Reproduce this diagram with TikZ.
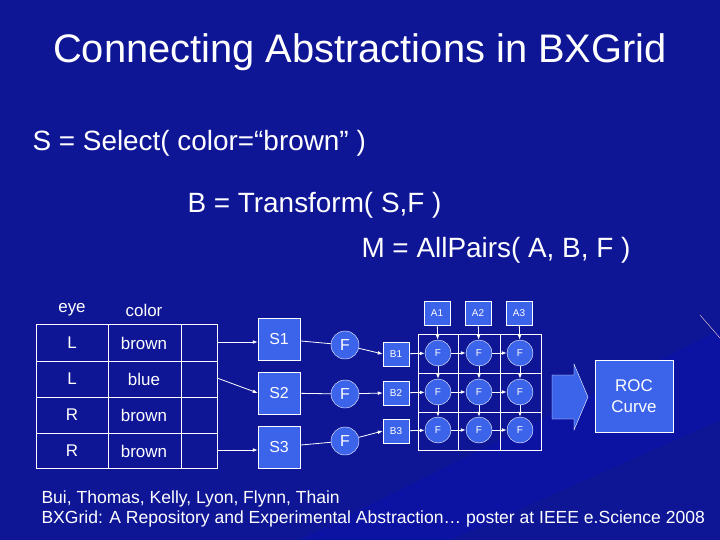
\documentclass[tikz,border=0pt]{standalone}
\usepackage{fontspec}
\setmainfont{Liberation Sans}
\usetikzlibrary{arrows.meta}
\definecolor{bg}{RGB}{14,22,150}
\definecolor{bx}{RGB}{60,100,235}
\tikzset{
 sbox/.style={draw=white,fill=bx,text=white,minimum width=42bp,minimum height=42bp,font=\fontsize{16}{16}\selectfont},
 bbox/.style={draw=white,fill=bx,text=white,minimum width=26bp,minimum height=24bp,font=\fontsize{10}{10}\selectfont},
 fcirc/.style={draw=white,fill=bx,text=white,circle,minimum size=28bp,inner sep=0,font=\fontsize{16}{16}\selectfont},
 gcirc/.style={draw=white,fill=bx,text=white,circle,minimum size=26bp,inner sep=0,font=\fontsize{10}{10}\selectfont},
 tx/.style={text=white,font=\fontsize{17}{17}\selectfont},
 big/.style={text=white,font=\fontsize{28}{28}\selectfont,anchor=west},
 con/.style={draw=white,thick,-{Latex[length=5bp]}},
}
\begin{document}
\begin{tikzpicture}[x=1bp,y=-1bp]
\fill[bg] (0,0) rectangle (720,540);
\fill[blue!60!bg,opacity=0.2] (300,540) -- (720,330) -- (720,420) -- (450,540) -- cycle;
\useasboundingbox (0,0) rectangle (720,540);
\draw[pink!70,thin] (700,315) -- (720,338);
\node[text=white,font=\fontsize{40}{40}\selectfont] (title) at (360,52) {Connecting Abstractions in BXGrid};
\node[big] (l1) at (29,143) {S = Select( color=“brown” )};
\node[big] (l2) at (184,205) {B = Transform( S,F )};
\node[big] (l3) at (358,250) {M = AllPairs( A, B, F )};
% table
\draw[white] (36,324) rectangle (217,468);
\foreach \x in {108,181} \draw[white] (\x,324) -- (\x,468);
\foreach \y in {361,397,433} \draw[white] (36,\y) -- (217,\y);
\node[tx] (h1) at (72,310) {eye};
\node[tx] (h2) at (144,310) {color};
\node[tx] (r1a) at (72,343) {L}; \node[tx] (r1b) at (144,343) {brown};
\node[tx] (r2a) at (72,379) {L}; \node[tx] (r2b) at (144,379) {blue};
\node[tx] (r3a) at (72,415) {R}; \node[tx] (r3b) at (144,415) {brown};
\node[tx] (r4a) at (72,451) {R}; \node[tx] (r4b) at (144,451) {brown};
\coordinate (t1) at (217,342); \coordinate (t2) at (217,378); \coordinate (t4) at (217,450);
\node[sbox] (s1) at (279,339) {S1};
\node[sbox] (s2) at (279,393) {S2};
\node[sbox] (s3) at (279,447) {S3};
\draw[con] (t1) -- (s1.west|-t1);
\draw[con] (t2) -- (s2.west);
\draw[con] (t4) -- (s3.west|-t4);
\node[fcirc] (f1) at (345,345) {F};
\node[fcirc] (f2) at (345,394) {F};
\node[fcirc] (f3) at (345,441) {F};
\draw[white,thick] (s1) -- (f1); \draw[white,thick] (s2) -- (f2); \draw[white,thick] (s3) -- (f3);
% grid
\draw[white] (418,334) rectangle (541,450);
\foreach \x in {458,500} \draw[white] (\x,334) -- (\x,450);
\foreach \y in {373,412} \draw[white] (418,\y) -- (541,\y);
\node[bbox] (b1) at (396,354) {B1};
\node[bbox] (b2) at (396,393) {B2};
\node[bbox] (b3) at (396,431) {B3};
\draw[con] (f1) -- (b1.west); \draw[con] (f2) -- (b2.west); \draw[con] (f3) -- (b3.west);
\node[bbox] (a1) at (437,313) {A1};
\node[bbox] (a2) at (478,313) {A2};
\node[bbox] (a3) at (519,313) {A3};
\foreach \i/\x in {1/438,2/479,3/520}{
 \foreach \j/\y in {1/353,2/392,3/430}{
  \node[gcirc] (g\j\i) at (\x,\y) {F};
 }
}
\foreach \i in {1,2,3}{
 \draw[con] (a\i) -- (g1\i); \draw[con] (g1\i) -- (g2\i); \draw[con] (g2\i) -- (g3\i);
 \draw[con] (b\i) -- (g\i1); \draw[con] (g\i1) -- (g\i2); \draw[con] (g\i2) -- (g\i3);
}
\draw[white,fill=bx] (552,375) -- (574,375) -- (574,364) -- (588,397) -- (574,430) -- (574,419) -- (552,419) -- cycle;
\node[sbox,minimum width=78bp,minimum height=72bp,align=center,font=\fontsize{17}{21}\selectfont] (roc) at (634,396) {ROC\\Curve};
\node[text=white,font=\fontsize{17.6}{21}\selectfont,anchor=west,align=left] (foot) at (38,509) {Bui, Thomas, Kelly, Lyon, Flynn, Thain\\BXGrid: A Repository and Experimental Abstraction… poster at IEEE e.Science 2008};
\end{tikzpicture}
\end{document}
